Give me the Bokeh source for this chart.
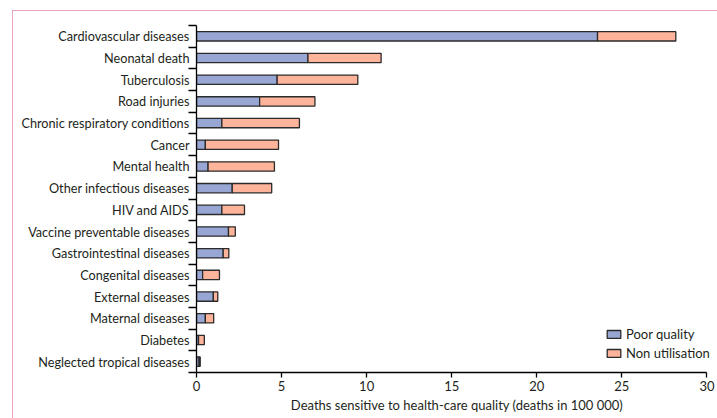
from bokeh.plotting import figure
from bokeh.models import FixedTicker, Legend, LegendItem, ColumnDataSource, InlineStyleSheet
from bokeh.embed import file_html
from bokeh.resources import INLINE

categories = ["Cardiovascular diseases", "Neonatal death", "Tuberculosis", "Road injuries",
              "Chronic respiratory conditions", "Cancer", "Mental health", "Other infectious diseases",
              "HIV and AIDS", "Vaccine preventable diseases", "Gastrointestinal diseases",
              "Congenital diseases", "External diseases", "Maternal diseases", "Diabetes",
              "Neglected tropical diseases"]
poor_quality = [23.57, 6.55, 4.74, 3.71, 1.49, 0.52, 0.68, 2.10, 1.49, 1.88, 1.57, 0.36, 0.99, 0.52, 0.12, 0.15]
non_utilisation = [4.60, 4.30, 4.74, 3.25, 4.56, 4.30, 3.90, 2.32, 1.33, 0.40, 0.33, 0.99, 0.26, 0.49, 0.34, 0.07]
x_ticks = [0, 5, 10, 15, 20, 25, 30]

n = len(categories)
ypos = [n - 1 - i + 0.5 for i in range(n)]
totals = [a + b for a, b in zip(poor_quality, non_utilisation)]

src = ColumnDataSource(dict(y=ypos, poor=poor_quality, total=totals, zero=[0] * n))

FONT = "Lato"
TXT = "#231f20"
BLUE = "#98a6d4"
SALMON = "#fdb49a"
EDGE = "#2b2b2b"

p = figure(width=717, height=418, x_range=(0, 30.62), y_range=(0, n),
           output_backend="svg", toolbar_location=None,
           min_border_left=196, min_border_right=0, min_border_top=25, min_border_bottom=46)
p.outline_line_color = None
p.xgrid.visible = False
p.ygrid.visible = False

r1 = p.hbar(y="y", left="zero", right="poor", height=0.43, source=src,
            fill_color=BLUE, line_color=EDGE, line_width=1.3)
r2 = p.hbar(y="y", left="poor", right="total", height=0.43, source=src,
            fill_color=SALMON, line_color=EDGE, line_width=1.3)

# y axis
yax = p.yaxis[0]
yax.ticker = FixedTicker(ticks=ypos, minor_ticks=list(range(n + 1)))
yax.major_label_overrides = {y: c for y, c in zip(ypos, categories)}
yax.major_tick_out = 0
yax.major_tick_in = 0
yax.minor_tick_out = 8
yax.minor_tick_in = 0
yax.minor_tick_line_color = "black"
yax.minor_tick_line_width = 1.3
yax.axis_line_color = "black"
yax.axis_line_width = 1.3
yax.major_label_standoff = -1
yax.major_label_text_font = FONT
yax.major_label_text_font_size = "12.7px"
yax.major_label_text_color = TXT

# x axis
xax = p.xaxis[0]
xax.ticker = FixedTicker(ticks=x_ticks)
xax.bounds = (0, 30)
xax.major_tick_out = 5
xax.major_tick_in = 0
xax.minor_tick_out = 0
xax.minor_tick_in = 0
xax.major_tick_line_color = "black"
xax.major_tick_line_width = 1.3
xax.axis_line_color = "black"
xax.axis_line_width = 1.3
xax.major_label_standoff = 3
xax.major_label_text_font = FONT
xax.major_label_text_font_size = "13px"
xax.major_label_text_color = TXT
xax.axis_label = "Deaths sensitive to health-care quality (deaths in 100 000)"
xax.axis_label_text_font = FONT
xax.axis_label_text_font_size = "13px"
xax.axis_label_text_font_style = "normal"
xax.axis_label_text_color = TXT
xax.axis_label_standoff = 3

legend = Legend(items=[LegendItem(label="Poor quality", renderers=[r1]),
                       LegendItem(label="Non utilisation", renderers=[r2])],
                location=(409, 11), padding=0, margin=0, spacing=3,
                glyph_width=17, glyph_height=10, label_standoff=4,
                label_text_font=FONT, label_text_font_size="13px", label_text_color=TXT,
                border_line_alpha=0, background_fill_alpha=0)
p.add_layout(legend)

# pink page frame (left and top edges visible)
p.stylesheets = [InlineStyleSheet(css="""
:host { position: relative; }
:host::after {
  content: "";
  position: absolute;
  left: 12px;
  top: 10px;
  width: 800px;
  height: 500px;
  border-left: 1.5px solid #eaa5bc;
  border-top: 1.5px solid #eaa5bc;
  pointer-events: none;
}
""")]

open("out.html", "w").write(file_html(p, INLINE))
